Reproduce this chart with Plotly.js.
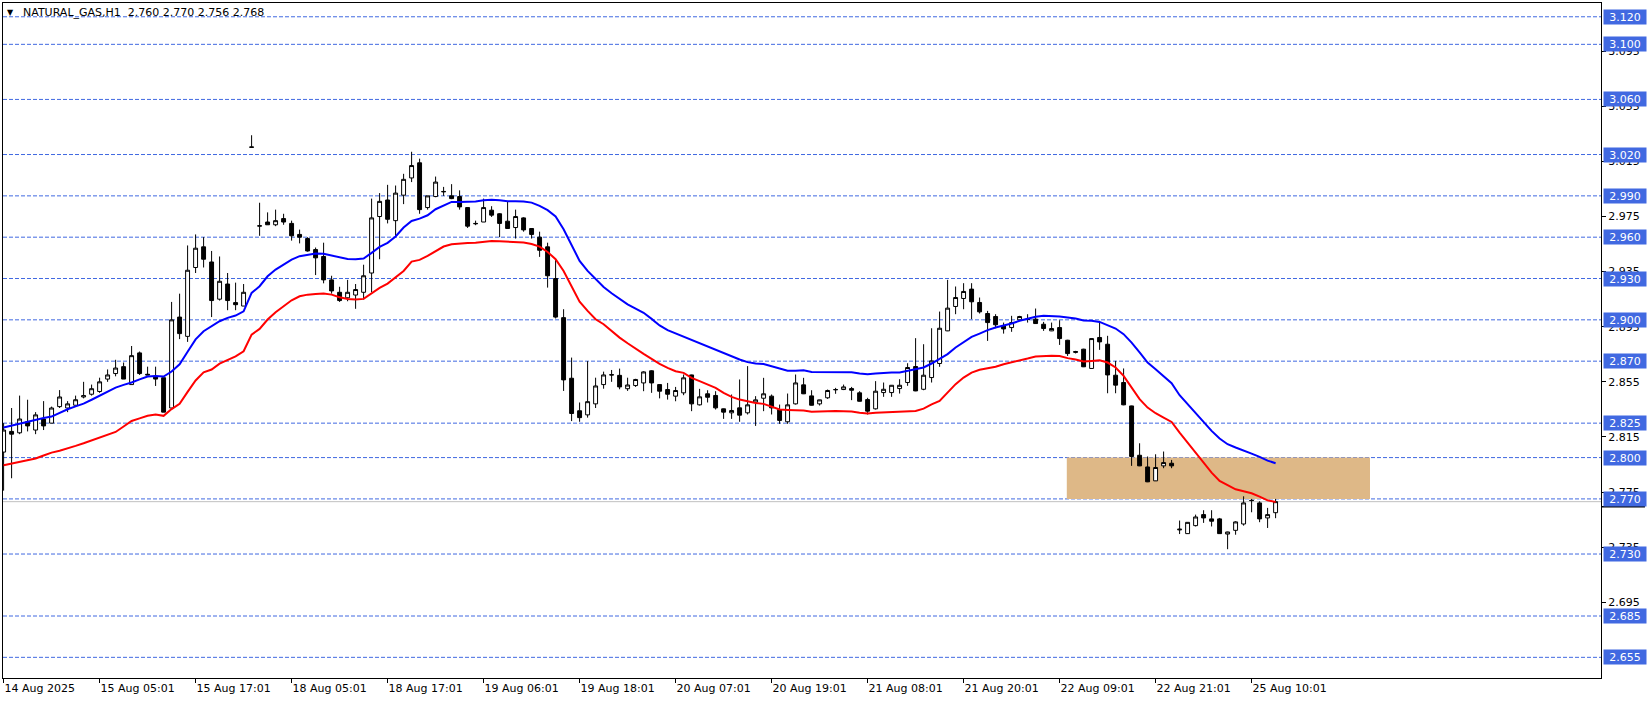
<!DOCTYPE html>
<html><head><meta charset="utf-8">
<script src="https://cdn.plot.ly/plotly-3.0.1.min.js"></script>
<style>html,body{margin:0;padding:0;background:#fff;}#chart{width:1651px;height:702px;}</style>
</head><body><div id="chart"></div>
<script>
// ---- data (hourly bars, index 0 = first visible bar) ----
const tickBars = [0,12,24,36,48,60,72,84,96,108,120,132,144,156];
const tickLabels = ["14 Aug 2025","15 Aug 05:01","15 Aug 17:01","18 Aug 05:01","18 Aug 17:01","19 Aug 06:01","19 Aug 18:01","20 Aug 07:01","20 Aug 19:01","21 Aug 08:01","21 Aug 20:01","22 Aug 09:01","22 Aug 21:01","25 Aug 10:01"];
const priceTicks = [2.695,2.735,2.775,2.815,2.855,2.895,2.935,2.975,3.015,3.055,3.095];
const levels = [3.120,3.100,3.060,3.020,2.990,2.960,2.930,2.900,2.870,2.825,2.800,2.770,2.730,2.685,2.655];
const bidPrice = 2.768;
const zone = {from:132.9, to:170.8, low:2.770, high:2.800};

const open = [2.804,2.819,2.818,2.826,2.820,2.828,2.825,2.837,2.836,2.838,
2.844,2.846,2.848,2.857,2.861,2.866,2.853,2.876,2.8605,2.859,
2.858,2.836,2.902,2.888,2.938,2.953,2.942,2.915,2.926,2.9125,
2.910,3.0255,2.968,2.971,2.969,2.9735,2.970,2.962,2.959,2.951,
2.946,2.929,2.920,2.916,2.918,2.920,2.934,2.975,2.987,2.972,
2.9905,3.003,3.014,2.9815,2.9895,2.9932,2.990,2.9895,2.9815,2.970,
2.971,2.9796,2.977,2.9716,2.967,2.974,2.9663,2.960,2.953,2.930,
2.9016,2.8576,2.834,2.831,2.839,2.853,2.8602,2.8597,2.850,2.8523,
2.8542,2.863,2.853,2.8494,2.8446,2.847,2.860,2.8383,2.8463,2.8451,
2.8354,2.8325,2.8361,2.8325,2.8402,2.8431,2.8446,2.8349,2.826,2.839,
2.8528,2.8448,2.839,2.8434,2.8492,2.8494,2.8501,2.847,2.8421,2.8354,
2.8472,2.8472,2.8501,2.8545,2.8661,2.8496,2.8581,2.8683,2.892,2.9097,
2.9155,2.9223,2.9126,2.9046,2.9024,2.8956,2.8944,2.900,2.9005,2.9005,
2.8968,2.892,2.8944,2.8852,2.877,2.8787,2.8647,2.8872,2.8823,2.8598,
2.8545,2.8375,2.8017,2.7932,2.7831,2.794,2.7959,2.7475,2.7448,2.7506,
2.7586,2.7555,2.7555,2.7445,2.7472,2.7518,2.769,2.7671,2.7562,2.760];
const high = [2.825,2.836,2.845,2.842,2.833,2.841,2.837,2.849,2.841,2.845,
2.855,2.853,2.858,2.864,2.871,2.869,2.881,2.877,2.866,2.866,
2.858,2.913,2.919,2.954,2.962,2.960,2.950,2.946,2.934,2.927,
2.926,3.034,2.985,2.978,2.980,2.977,2.972,2.9655,2.960,2.9525,
2.956,2.932,2.924,2.929,2.926,2.940,2.988,2.992,2.998,2.9975,
3.006,3.022,3.017,2.990,3.004,2.9965,2.9985,2.994,2.9817,2.972,
2.988,2.9825,2.9774,2.9856,2.980,2.9745,2.9665,2.964,2.956,2.944,
2.9077,2.8726,2.840,2.870,2.858,2.8624,2.8636,2.8646,2.858,2.8572,
2.8627,2.8634,2.8532,2.8542,2.8513,2.8603,2.8602,2.8499,2.8489,2.8482,
2.8356,2.8458,2.8567,2.8664,2.8446,2.8579,2.8458,2.8385,2.8465,2.8603,
2.8579,2.8489,2.842,2.8494,2.8506,2.853,2.8513,2.8482,2.8434,2.8555,
2.8545,2.8527,2.8569,2.8685,2.8867,2.8823,2.8939,2.906,2.929,2.9242,
2.9266,2.9266,2.9162,2.9065,2.9041,2.898,2.9029,2.9029,2.9041,2.9082,
2.8985,2.898,2.8997,2.8855,2.8775,2.879,2.8866,2.8993,2.8884,2.8702,
2.8647,2.8377,2.8104,2.8008,2.8024,2.8044,2.7983,2.7543,2.7532,2.7586,
2.7618,2.7618,2.7562,2.7462,2.7538,2.7719,2.770,2.7683,2.7635,2.770];
const low = [2.776,2.785,2.817,2.819,2.817,2.820,2.825,2.836,2.833,2.838,
2.843,2.845,2.847,2.855,2.859,2.857,2.853,2.860,2.860,2.852,
2.833,2.836,2.886,2.884,2.934,2.938,2.902,2.914,2.907,2.907,
2.910,3.025,2.961,2.969,2.968,2.969,2.9575,2.9555,2.9495,2.9325,
2.9265,2.919,2.913,2.9135,2.908,2.9147,2.920,2.944,2.970,2.961,
2.984,3.000,2.977,2.980,2.989,2.990,2.9876,2.980,2.9667,2.9687,
2.971,2.9747,2.960,2.966,2.959,2.964,2.959,2.9457,2.9234,2.901,
2.8484,2.8265,2.826,2.829,2.836,2.850,2.855,2.8496,2.8484,2.8513,
2.8482,2.847,2.843,2.8421,2.8409,2.8453,2.8337,2.8378,2.840,2.8349,
2.8281,2.8281,2.826,2.8313,2.823,2.8337,2.8313,2.8245,2.8245,2.8385,
2.8461,2.8378,2.8378,2.8426,2.8463,2.849,2.8417,2.8407,2.8313,2.8349,
2.8441,2.8441,2.8465,2.8521,2.8482,2.8489,2.8545,2.8659,2.8918,2.9041,
2.9077,2.9005,2.9046,2.8847,2.8939,2.890,2.8913,2.8993,2.898,2.897,
2.892,2.8918,2.8818,2.8738,2.8756,2.8657,2.8645,2.8782,2.8467,2.8467,
2.838,2.794,2.7938,2.7822,2.783,2.7923,2.7923,2.7445,2.7446,2.750,
2.7526,2.750,2.7446,2.7335,2.744,2.7506,2.7603,2.7531,2.7489,2.756];
const close = [2.820,2.817,2.828,2.823,2.831,2.823,2.836,2.844,2.839,2.842,
2.845,2.850,2.855,2.860,2.865,2.857,2.874,2.861,2.860,2.857,
2.833,2.900,2.890,2.936,2.952,2.944,2.914,2.928,2.914,2.911,
2.920,3.0253,2.9683,2.969,2.972,2.971,2.961,2.960,2.950,2.945,
2.929,2.921,2.914,2.920,2.922,2.932,2.974,2.986,2.973,2.992,
3.002,3.012,2.980,2.990,3.000,2.993,2.988,2.982,2.968,2.9698,
2.9815,2.976,2.970,2.9663,2.975,2.9653,2.962,2.9505,2.932,2.902,
2.8564,2.832,2.829,2.8406,2.852,2.860,2.860,2.8513,2.8527,2.8567,
2.8622,2.8542,2.8482,2.846,2.8487,2.8579,2.839,2.8441,2.8438,2.8361,
2.833,2.8342,2.8308,2.8383,2.8419,2.8463,2.8361,2.827,2.8383,2.8542,
2.8463,2.838,2.8419,2.8487,2.8494,2.8513,2.8489,2.8409,2.8337,2.8482,
2.8496,2.8525,2.8525,2.8654,2.8484,2.8598,2.8702,2.8939,2.9085,2.9162,
2.9206,2.9131,2.9058,2.898,2.8964,2.8934,2.898,2.9024,2.9003,2.8973,
2.8937,2.8937,2.8864,2.8755,2.8765,2.8659,2.8864,2.884,2.860,2.8526,
2.8383,2.8008,2.794,2.7824,2.7928,2.7964,2.794,2.748,2.753,2.7569,
2.7562,2.7538,2.7448,2.746,2.7533,2.7671,2.7688,2.7555,2.7586,2.768];
const maBlue = [2.8218,2.8232,2.8249,2.8262,2.8278,2.8288,2.8298,2.8325,2.8351,2.8372,
2.8392,2.8420,2.8448,2.8478,2.8508,2.8528,2.8545,2.8568,2.8588,2.8592,
2.8588,2.8625,2.8677,2.8768,2.8858,2.8917,2.8953,2.8990,2.9014,2.9031,
2.9062,2.9195,2.9244,2.9316,2.9365,2.9401,2.9437,2.9462,2.9471,2.9481,
2.9479,2.9467,2.9450,2.9442,2.9440,2.9445,2.9486,2.9529,2.9559,2.9605,
2.9670,2.9718,2.9735,2.9759,2.9803,2.9827,2.9856,2.9856,2.9856,2.9859,
2.9868,2.9871,2.9868,2.9861,2.9861,2.9859,2.9851,2.9827,2.9796,2.9750,
2.9658,2.9542,2.9428,2.9355,2.9295,2.9239,2.9193,2.9154,2.9113,2.9082,
2.9051,2.9007,2.8959,2.8925,2.8901,2.8877,2.8852,2.8828,2.8804,2.8780,
2.8756,2.8731,2.8712,2.8693,2.8683,2.8680,2.8664,2.8644,2.8630,2.8630,
2.8634,2.8622,2.8622,2.8622,2.8622,2.8622,2.8620,2.8610,2.8605,2.8610,
2.8615,2.8617,2.8617,2.8629,2.8642,2.8654,2.8683,2.8714,2.8751,2.8799,
2.8840,2.8876,2.8900,2.8925,2.8944,2.8956,2.8973,2.8993,2.9010,2.9022,
2.9029,2.9029,2.9024,2.9017,2.9010,2.8995,2.8993,2.8985,2.8961,2.8937,
2.8896,2.8835,2.8763,2.8690,2.8642,2.8593,2.8540,2.8453,2.8388,2.8327,
2.8254,2.8194,2.8138,2.8097,2.8073,2.8053,2.8029,2.8005,2.7978,2.7959];
const maRed = [2.7944,2.7956,2.7969,2.7981,2.7993,2.8015,2.8036,2.8050,2.8065,2.8085,
2.8104,2.8124,2.8143,2.8165,2.8186,2.8226,2.8266,2.8285,2.8303,2.8312,
2.8303,2.8352,2.8391,2.8477,2.8560,2.8619,2.8639,2.8682,2.8711,2.8735,
2.8772,2.8893,2.8934,2.9002,2.9055,2.9099,2.9142,2.9171,2.9183,2.9188,
2.9191,2.9183,2.9164,2.9152,2.9147,2.9152,2.9195,2.9232,2.9263,2.9310,
2.9355,2.9423,2.9435,2.9464,2.9500,2.9532,2.9549,2.9556,2.9558,2.9560,
2.9568,2.9573,2.9570,2.9566,2.9566,2.9561,2.9551,2.9532,2.9493,2.9440,
2.9355,2.9246,2.9132,2.9065,2.9004,2.8968,2.8919,2.8871,2.8830,2.8790,
2.8753,2.8717,2.8680,2.8651,2.8627,2.8615,2.8579,2.8555,2.8530,2.8506,
2.8470,2.8441,2.8421,2.8407,2.8397,2.8390,2.8368,2.8349,2.8346,2.8344,
2.8342,2.8332,2.8332,2.8337,2.8339,2.8339,2.8334,2.8325,2.8320,2.8325,
2.8327,2.8329,2.8330,2.8332,2.8338,2.8355,2.8387,2.8412,2.8472,2.8533,
2.8581,2.8617,2.8637,2.8646,2.8659,2.8678,2.8690,2.8702,2.8719,2.8734,
2.8738,2.8740,2.8738,2.8722,2.8712,2.8697,2.8702,2.8707,2.8690,2.8654,
2.8593,2.8509,2.8424,2.8363,2.8322,2.8291,2.8259,2.8182,2.8109,2.8037,
2.7964,2.7891,2.7831,2.7799,2.7770,2.7756,2.7741,2.7717,2.7690,2.7678];

// ---- drawing ----
const bars = open.map((_, i) => i);
const FONT = "DejaVu Sans";
const LEVEL_BLUE = "rgb(65,105,225)";

const traces = [
  {type:"candlestick", x:bars, open:open, high:high, low:low, close:close,
   increasing:{line:{color:"#000",width:1}, fillcolor:"#fff"},
   decreasing:{line:{color:"#000",width:1}, fillcolor:"#000"},
   whiskerwidth:0, hoverinfo:"skip", showlegend:false},
  {type:"scatter", mode:"lines", x:bars, y:maBlue, line:{color:"#0000ff",width:2},
   hoverinfo:"skip", showlegend:false},
  {type:"scatter", mode:"lines", x:bars, y:maRed, line:{color:"#ff0000",width:2},
   hoverinfo:"skip", showlegend:false}
];

const shapes = [
  {type:"rect", xref:"x", yref:"y", x0:zone.from, x1:zone.to, y0:zone.low, y1:zone.high,
   fillcolor:"#DEB887", line:{width:0}, layer:"below"}
];
levels.forEach(v => shapes.push({type:"line", xref:"paper", yref:"y", x0:0, x1:1, y0:v, y1:v,
  line:{color:LEVEL_BLUE, width:1, dash:"4px,2px"}, layer:"below"}));
shapes.push({type:"line", xref:"paper", yref:"y", x0:0, x1:1, y0:bidPrice, y1:bidPrice,
  line:{color:"#C0C0C0", width:1}, layer:"below"});
shapes.push({type:"line", xref:"paper", yref:"y", x0:1.0003, x1:1.0275, y0:bidPrice-0.0037, y1:bidPrice-0.0037,
  line:{color:"#000", width:1.5}});

const annotations = [
  {xref:"paper", yref:"paper", x:0.0049, y:0.9855, xanchor:"center", yanchor:"middle",
   text:"▼", showarrow:false, font:{family:FONT, size:8, color:"#000"}},
  {xref:"paper", yref:"paper", x:0.0113, y:0.9852, xanchor:"left", yanchor:"middle",
   text:"NATURAL_GAS,H1\u00A0\u00A0" + [open[159],high[159],low[159],close[159]].map(v=>v.toFixed(3)).join(" "),
   showarrow:false, font:{family:FONT, size:11, color:"#000"}}
];
levels.forEach(v => annotations.push({xref:"paper", yref:"y", x:1.0013, y:v, xanchor:"left", yanchor:"middle",
  text:v.toFixed(3), showarrow:false, bgcolor:LEVEL_BLUE, width:40, height:12, borderpad:1, align:"center",
  font:{family:FONT, size:11, color:"#fff"}}));

const layout = {
  width:1651, height:702,
  margin:{l:3, r:50, t:3, b:24, pad:0},
  paper_bgcolor:"#fff", plot_bgcolor:"#fff",
  showlegend:false,
  font:{family:FONT, size:11, color:"#000"},
  xaxis:{type:"linear", range:[-0.075, 199.675], rangeslider:{visible:false},
    tickvals:tickBars, ticktext:tickLabels, ticks:"outside", ticklen:4, tickcolor:"#000",
    ticklabelposition:"outside right",
    showgrid:false, zeroline:false, showline:true, mirror:true, linecolor:"#000", linewidth:1,
    tickfont:{family:FONT, size:11, color:"#000"}},
  yaxis:{side:"right", range:[2.640, 3.130], tickvals:priceTicks, ticktext:priceTicks.map(v=>v.toFixed(3)),
    ticks:"outside", ticklen:4, tickcolor:"#000",
    showgrid:false, zeroline:false, showline:true, mirror:true, linecolor:"#000", linewidth:1,
    tickfont:{family:FONT, size:11, color:"#000"}},
  shapes:shapes, annotations:annotations
};

Plotly.newPlot("chart", traces, layout, {staticPlot:true, displayModeBar:false});
</script></body></html>
